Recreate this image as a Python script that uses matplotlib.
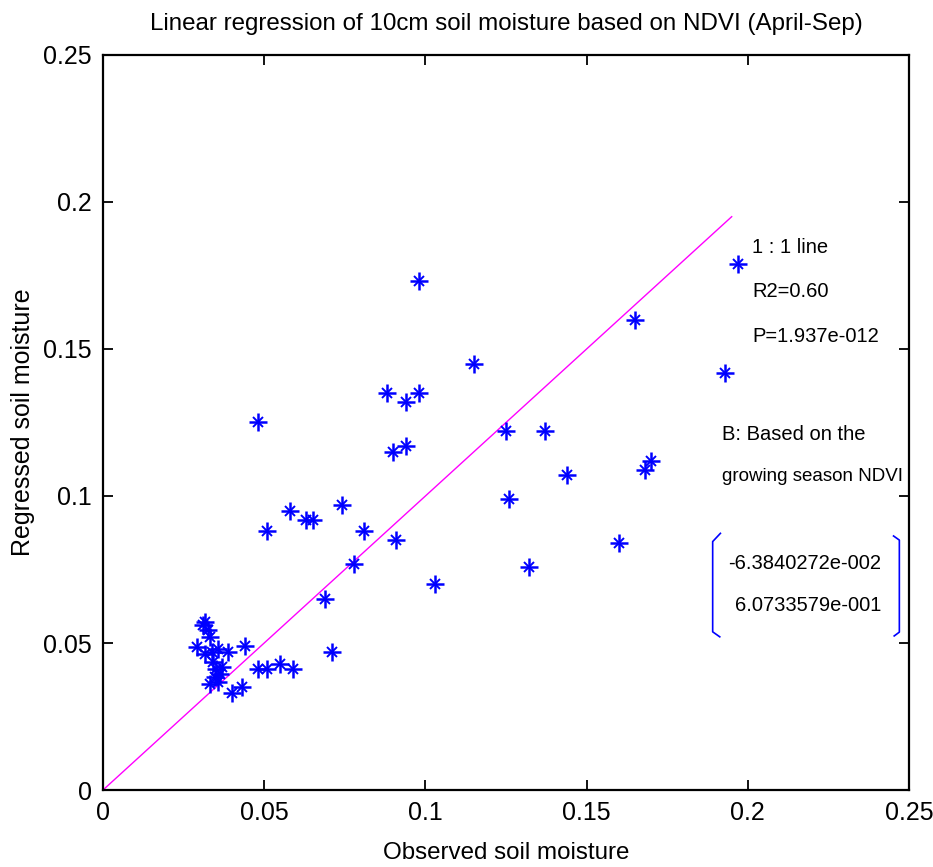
import numpy as np
import matplotlib
matplotlib.use('Agg')
import matplotlib.pyplot as plt

plt.rcParams['font.family'] = ['Liberation Sans', 'DejaVu Sans']

# observed vs regressed 10cm soil moisture
observed = [0.197, 0.098, 0.165, 0.115, 0.193, 0.088, 0.098, 0.094, 0.048, 0.125,
            0.137, 0.094, 0.090, 0.170, 0.168, 0.144, 0.126, 0.074, 0.058, 0.063,
            0.065, 0.051, 0.081, 0.091, 0.160, 0.078, 0.132, 0.103, 0.069, 0.071,
            0.044, 0.048, 0.051, 0.055, 0.059, 0.043, 0.040,
            0.0316, 0.0311, 0.0327, 0.0291, 0.0332, 0.0316, 0.0337, 0.0358, 0.0387,
            0.0342, 0.0352, 0.0368, 0.0363, 0.0347, 0.0332, 0.0358]
regressed = [0.179, 0.173, 0.160, 0.145, 0.142, 0.135, 0.135, 0.132, 0.125, 0.122,
             0.122, 0.117, 0.115, 0.112, 0.109, 0.107, 0.099, 0.097, 0.095, 0.092,
             0.092, 0.088, 0.088, 0.085, 0.084, 0.077, 0.076, 0.070, 0.065, 0.047,
             0.049, 0.041, 0.041, 0.043, 0.041, 0.035, 0.033,
             0.0571, 0.0560, 0.0543, 0.0486, 0.0520, 0.0464, 0.0469, 0.0480, 0.0469,
             0.0435, 0.0413, 0.0418, 0.0396, 0.0384, 0.0362, 0.0367]

line_end = 0.195
coef = ['-6.3840272e-002', '6.0733579e-001']
ticks = [0, 0.05, 0.1, 0.15, 0.2, 0.25]
tick_labels = ['0', '0.05', '0.1', '0.15', '0.2', '0.25']

fig = plt.figure(figsize=(9.33, 8.67), dpi=100)
ax = fig.add_axes([0.1104, 0.0888, 0.8639, 0.8478])

# 1:1 line
ax.plot([0, line_end], [0, line_end], color='#ff00ff', lw=1.0)

# matlab-style asterisk markers: plus + cross
ax.plot(observed, regressed, ls='none', marker='+', ms=12.5, mew=1.8, color='#0000ff')
ax.plot(observed, regressed, ls='none', marker='x', ms=7, mew=1.4, color='#0000ff')

ax.set_xlim(0, 0.25)
ax.set_ylim(0, 0.25)
ax.set_xticks(ticks)
ax.set_yticks(ticks)
ax.set_xticklabels(tick_labels)
ax.set_yticklabels(tick_labels)
ax.tick_params(direction='in', length=7, width=1.3, top=True, right=True,
               labelsize=18, pad=8)
for s in ax.spines.values():
    s.set_linewidth(1.6)

ax.set_title('Linear regression of 10cm soil moisture based on NDVI (April-Sep)',
             fontsize=17.4, pad=18)
ax.set_xlabel('Observed soil moisture', fontsize=17.4, labelpad=12)
ax.set_ylabel('Regressed soil moisture', fontsize=18, labelpad=6)

fs = 14.5
ax.text(0.2013, 0.1844, '1 : 1 line', fontsize=fs, va='center')
ax.text(0.2013, 0.1694, 'R2=0.60', fontsize=fs, va='center')
ax.text(0.2013, 0.1544, 'P=1.937e-012', fontsize=fs, va='center')
ax.text(0.1920, 0.1210, 'B: Based on the', fontsize=fs, va='center')
ax.text(0.1920, 0.1065, 'growing season NDVI', fontsize=13.5, va='center')
ax.text(0.1939, 0.0772, coef[0], fontsize=fs, va='center')
ax.text(0.1960, 0.0629, coef[1], fontsize=fs, va='center')

# brackets around the coefficient vector
ax.plot([0.1915, 0.1891, 0.1891, 0.1913], [0.0873, 0.0845, 0.0538, 0.0521],
        color='#0000ff', lw=1.2)
ax.plot([0.2452, 0.2470, 0.2470, 0.2454], [0.0864, 0.0850, 0.0537, 0.0524],
        color='#0000ff', lw=1.2)

fig.savefig('out.png', dpi=100)
